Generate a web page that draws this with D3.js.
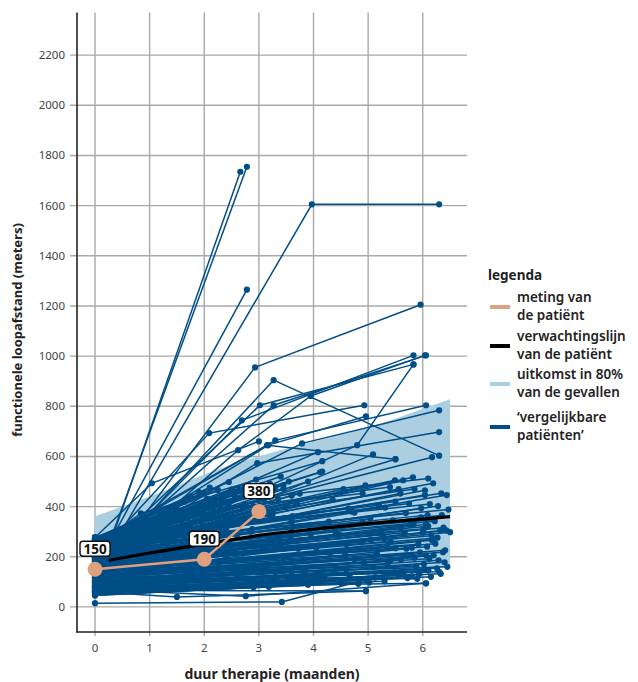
<!DOCTYPE html>
<html>
<head>
<meta charset="utf-8">
<script src="https://cdn.jsdelivr.net/npm/d3@7"></script>
<style>
  html, body { margin: 0; padding: 0; background: #fff; }
  svg { display: block; font-family: "Noto Sans", "Open Sans", sans-serif; }
</style>
</head>
<body>
<svg id="chart" width="638" height="682"></svg>
<script>
// Axis ticks
const xTicks = [0, 1, 2, 3, 4, 5, 6];
const yTicks = [0, 200, 400, 600, 800, 1000, 1200, 1400, 1600, 1800, 2000, 2200];

// 80% outcome band (months, lower, upper)
const bandMonths = [0, 0.5, 1, 1.5, 2, 2.5, 3, 3.5, 4, 4.5, 5, 5.5, 6, 6.5];
const bandLower  = [100, 104, 110, 115, 120, 125, 130, 134, 138, 141, 145, 148, 152, 158];
const bandUpper  = [362, 400, 440, 482, 528, 568, 600, 632, 660, 686, 714, 750, 790, 828];

// Expected trajectory of the patient
const expectMonths = [0.25, 1, 2, 3, 4, 5, 6, 6.5];
const expectValues = [186, 215, 250, 285, 310, 332, 350, 360];

// Measurements of the patient
const patientMonths = [0, 2, 3];
const patientValues = [150, 190, 380];

// Comparable patients: each row is [month, metres, month, metres, ...]
const outlierPatients = [
  [0, 80, 2.66, 1735],
  [0, 100, 2.78, 1755],
  [0, 150, 2.78, 1265],
  [0, 120, 3.97, 1605, 6.3, 1605],
  [0, 105, 2.93, 955, 5.96, 1205],
  [0, 140, 3.27, 904, 6.3, 603],
  [0, 200, 2.09, 693, 4.93, 804],
  [0, 152, 2.69, 744, 5.83, 1003],
  [0, 190, 3.02, 804, 5.83, 967],
  [0, 170, 3.27, 804, 6.06, 1003],
  [0, 130, 2.62, 625, 3.95, 841, 6.04, 1003],
  [0, 277, 1.04, 493, 3.0, 660],
  [0, 210, 3.17, 645, 4.96, 760],
  [0, 232, 3.79, 652, 6.3, 784],
  [0, 160, 4.8, 645, 5.83, 967],
  [0, 250, 3.3, 664, 6.06, 804],
  [0, 180, 2.97, 573, 6.3, 697],
  [0, 260, 3.15, 645, 5.5, 589],
  [0, 243, 0.84, 373, 4.16, 581],
  [0, 15, 3.42, 20, 5.13, 118],
  [0, 60, 1.5, 40, 4.96, 63],
  [0, 70, 2.76, 43, 6.06, 94],
  [0, 50, 3.18, 80, 6.1, 146]
];

const lowerPatients = [
  [0, 52, 5.13, 118], [0, 66, 4.96, 63], [0, 47, 3.9, 88, 6.06, 94], [0, 73, 5.93, 130],
  [0, 58, 2.3, 84, 5.8, 122], [0, 81, 6.1, 146], [0, 69, 4.98, 106], [0, 94, 6.26, 154],
  [0, 88, 3.6, 128, 6.02, 171], [0, 103, 5.4, 182], [0, 76, 6.2, 206], [0, 117, 6.06, 206],
  [0, 98, 5.95, 218], [0, 126, 6.37, 218], [0, 109, 2.9, 168, 5.7, 232], [0, 134, 6.17, 266],
  [0, 85, 4.4, 160], [0, 121, 4.75, 190], [0, 62, 2.05, 88], [0, 99, 3.3, 140],
  [0, 113, 1.9, 150], [0, 57, 5.3, 102], [0, 79, 4.2, 118], [0, 131, 5.1, 160],
  [0, 92, 6.4, 178], [0, 141, 5.85, 196], [0, 107, 4.6, 148], [0, 72, 3.7, 99],
  [0, 124, 3.15, 172], [0, 136, 2.7, 190], [0, 64, 5.55, 128], [0, 86, 2.6, 118, 5.9, 112],
  [0, 55, 4.5, 96], [0, 115, 6.45, 160], [0, 78, 3.05, 110], [0, 97, 5.65, 140],
  [0, 49, 5.02, 97], [0, 111, 5.35, 170], [0, 61, 4.82, 92], [0, 148, 4.58, 206],
  [0, 53, 6.15, 120], [0, 128, 6.41, 226], [0, 82, 5.48, 138], [0, 67, 5.72, 115],
  [0, 101, 6.29, 186], [0, 91, 4.66, 126], [0, 137, 5.16, 212], [0, 71, 6.33, 132],
  [0, 119, 4.93, 176], [0, 87, 6.04, 150], [0, 105, 3.84, 142], [0, 75, 3.52, 104],
  [0, 96, 5.88, 162], [0, 123, 5.79, 208], [0, 116, 6.12, 192], [0, 132, 3.44, 180],
  [0, 58, 2.5, 96, 5.0, 110], [0, 96, 2.7, 152, 5.6, 188], [0, 76, 3.3, 120, 6.3, 140],
  [0, 109, 2.1, 178, 5.8, 236], [0, 63, 4.1, 104], [0, 84, 1.6, 112], [0, 46, 2.9, 78]
];

const middlePatients = [
  [0, 147, 6.32, 305], [0, 158, 3.05, 224, 6.43, 305], [0, 152, 5.6, 318], [0, 171, 5.77, 327],
  [0, 163, 6.06, 330], [0, 176, 5.97, 357], [0, 184, 2.6, 286, 5.97, 393], [0, 149, 4.9, 262],
  [0, 168, 5.25, 290], [0, 193, 4.4, 300], [0, 157, 3.4, 248], [0, 181, 2.85, 300],
  [0, 144, 2.2, 240], [0, 198, 3.6, 340], [0, 166, 6.5, 298], [0, 187, 5.05, 268],
  [0, 155, 4.05, 236], [0, 203, 5.45, 345], [0, 174, 2.45, 262], [0, 162, 1.8, 228],
  [0, 190, 3.25, 262], [0, 146, 6.23, 252], [0, 209, 4.75, 376], [0, 179, 3.95, 290],
  [0, 196, 6.1, 322], [0, 139, 5.35, 242], [0, 172, 1.35, 232], [0, 185, 4.2, 318],
  [0, 154, 2.95, 256], [0, 201, 6.35, 366], [0, 143, 6.08, 240], [0, 159, 6.27, 276],
  [0, 153, 5.92, 250], [0, 169, 5.41, 262], [0, 164, 3.72, 232], [0, 173, 6.16, 284],
  [0, 178, 4.88, 258], [0, 182, 5.67, 296], [0, 188, 6.38, 316], [0, 192, 3.58, 270],
  [0, 197, 5.22, 300], [0, 202, 6.02, 312], [0, 207, 4.47, 288], [0, 213, 5.83, 330],
  [0, 218, 6.22, 342], [0, 223, 2.88, 310], [0, 228, 5.04, 352], [0, 118, 2.4, 196, 5.3, 274],
  [0, 142, 3.1, 232, 6.0, 296], [0, 167, 2.2, 286, 4.9, 338], [0, 133, 1.9, 208, 4.6, 250],
  [0, 181, 3.6, 300, 6.2, 348], [0, 127, 4.3, 214], [0, 150, 5.5, 234], [0, 138, 6.2, 270]
];

const upperPatients = [
  [0, 212, 5.59, 452], [0, 219, 6.04, 465], [0, 227, 6.04, 446], [0, 206, 6.44, 446],
  [0, 241, 6.34, 453], [0, 233, 5.56, 470], [0, 252, 5.49, 505], [0, 224, 5.64, 505],
  [0, 247, 5.82, 517], [0, 238, 6.19, 493], [0, 216, 4.95, 485], [0, 261, 3.1, 428, 5.09, 608],
  [0, 229, 5.5, 589], [0, 256, 6.17, 597], [0, 244, 4.16, 540], [0, 268, 4.12, 537],
  [0, 235, 2.5, 468, 4.08, 617], [0, 274, 5.2, 405], [0, 249, 4.7, 380], [0, 221, 3.5, 398],
  [0, 258, 2.3, 392], [0, 214, 1.6, 330], [0, 266, 1.2, 350], [0, 239, 2.9, 446],
  [0, 253, 2.15, 410], [0, 231, 3.75, 452], [0, 246, 1.95, 372], [0, 278, 2.75, 480],
  [0, 218, 3.2, 365], [0, 263, 1.45, 395], [0, 226, 2.6, 340], [0, 271, 3.45, 472],
  [0, 237, 4.35, 428], [0, 257, 5.75, 412], [0, 208, 6.28, 402], [0, 242, 2.0, 455],
  [0, 222, 2.4, 420], [0, 267, 1.75, 440], [0, 230, 3.9, 500], [0, 254, 4.55, 470],
  [0, 234, 6.09, 366], [0, 239, 4.28, 340], [0, 245, 5.69, 374], [0, 251, 6.47, 388],
  [0, 256, 3.62, 362], [0, 262, 5.31, 396], [0, 268, 6.13, 410], [0, 273, 4.64, 392],
  [0, 205, 2.8, 342, 5.5, 420], [0, 232, 2.7, 400, 5.4, 478], [0, 255, 3.2, 440, 6.1, 512],
  [0, 219, 2.4, 362, 5.85, 470], [0, 244, 1.8, 380, 4.9, 452]
];

const fanPatients = [
  [0, 205, 1.3, 300], [0, 248, 1.55, 362], [0, 190, 2.05, 318], [0, 262, 2.35, 438],
  [0, 226, 1.85, 392], [0, 271, 2.65, 462], [0, 214, 2.95, 388], [0, 238, 3.35, 430],
  [0, 257, 1.1, 318], [0, 199, 2.5, 352], [0, 266, 3.05, 486], [0, 231, 1.7, 356],
  [0, 244, 2.2, 426], [0, 209, 3.25, 370], [0, 275, 1.9, 458], [0, 220, 2.75, 410],
  [0, 252, 3.55, 500], [0, 186, 1.45, 262], [0, 236, 2.45, 402], [0, 259, 2.85, 470],
  [0, 196, 3.7, 410], [0, 272, 2.1, 476], [0, 215, 1.25, 338], [0, 240, 3.0, 458],
  [0, 228, 2.55, 448], [0, 263, 3.2, 492], [0, 201, 1.95, 340], [0, 245, 2.75, 452],
  [0, 218, 2.15, 372], [0, 269, 1.65, 420], [0, 233, 3.45, 486], [0, 256, 2.05, 432],
  [0, 212, 2.9, 402], [0, 241, 1.35, 352], [0, 274, 2.45, 498], [0, 194, 2.6, 336],
  [0, 250, 3.3, 478], [0, 223, 1.8, 364], [0, 264, 2.95, 508], [0, 207, 3.1, 392],
  [0, 236, 2.3, 430], [0, 258, 1.5, 388], [0, 216, 3.6, 444], [0, 270, 3.4, 520],
  [0, 198, 1.15, 282], [0, 247, 2.65, 470], [0, 230, 1.6, 368], [0, 261, 2.25, 466],
  [0, 184, 2.4, 310], [0, 225, 3.0, 424]
];

// Legend entries
const legendTitle = "legenda";
const legendItems = [
  { key: "patient", lines: ["meting van", "de patiënt"] },
  { key: "expect",  lines: ["verwachtingslijn", "van de patiënt"] },
  { key: "band",    lines: ["uitkomst in 80%", "van de gevallen"] },
  { key: "cohort",  lines: ["‘vergelijkbare", "patiënten’"] }
];

const COLORS = {
  cohort: "#004e87",
  band: "#abcee0",
  expect: "#000000",
  patient: "#dfa07f",
  grid: "#a9a9a9",
  axis: "#222222",
  text: "#222222",
  tick: "#444444"
};

const svg = d3.select("#chart");

const x = d3.scaleLinear().domain([-0.33, 6.81]).range([77, 467]);
const y = d3.scaleLinear().domain([-100, 2370]).range([632, 12.5]);

// Grid
const grid = svg.append("g");
grid.selectAll("line.h").data(yTicks).join("line")
  .attr("x1", 70).attr("x2", 467)
  .attr("y1", d => y(d)).attr("y2", d => y(d))
  .attr("stroke", COLORS.grid).attr("stroke-width", 1.4);
grid.selectAll("line.v").data(xTicks).join("line")
  .attr("x1", d => x(d)).attr("x2", d => x(d))
  .attr("y1", 12.5).attr("y2", 636)
  .attr("stroke", COLORS.grid).attr("stroke-width", 1.4);

// Tick labels
svg.append("g").selectAll("text").data(yTicks).join("text")
  .attr("x", 65).attr("y", d => y(d)).attr("dy", "0.35em")
  .attr("text-anchor", "end").attr("font-size", 11.5).attr("fill", COLORS.tick)
  .text(d => d);
svg.append("g").selectAll("text").data(xTicks).join("text")
  .attr("x", d => x(d)).attr("y", 652)
  .attr("text-anchor", "middle").attr("font-size", 11.5).attr("fill", COLORS.tick)
  .text(d => d);

// 80% band
const bandData = bandMonths.map((m, i) => ({ m, lo: bandLower[i], hi: bandUpper[i] }));
svg.append("path").datum(bandData)
  .attr("fill", COLORS.band)
  .attr("d", d3.area().x(d => x(d.m)).y0(d => y(d.lo)).y1(d => y(d.hi)));

// Comparable patients
function toPoints(row) {
  const pts = [];
  for (let i = 0; i < row.length; i += 2) pts.push([row[i], row[i + 1]]);
  return pts;
}
const line = d3.line().x(d => x(d[0])).y(d => y(d[1]));
const cohort = [...lowerPatients, ...middlePatients, ...fanPatients, ...upperPatients, ...outlierPatients].map(toPoints);
const cg = svg.append("g");
cohort.forEach(pts => {
  cg.append("path").datum(pts)
    .attr("d", line).attr("fill", "none")
    .attr("stroke", COLORS.cohort).attr("stroke-width", 1.5);
  cg.selectAll(null).data(pts).join("circle")
    .attr("cx", d => x(d[0])).attr("cy", d => y(d[1])).attr("r", 3.1)
    .attr("fill", COLORS.cohort);
});

// Axis lines
svg.append("line").attr("x1", 77).attr("x2", 77).attr("y1", 12.5).attr("y2", 632.5)
  .attr("stroke", COLORS.axis).attr("stroke-width", 1.6);
svg.append("line").attr("x1", 76.2).attr("x2", 467).attr("y1", 632).attr("y2", 632)
  .attr("stroke", COLORS.axis).attr("stroke-width", 1.6);

// Expected trajectory
svg.append("path").datum(expectMonths.map((m, i) => [m, expectValues[i]]))
  .attr("d", d3.line().x(d => x(d[0])).y(d => y(d[1])).curve(d3.curveMonotoneX))
  .attr("fill", "none")
  .attr("stroke", COLORS.expect).attr("stroke-width", 3.2);

// Patient measurements
const patient = patientMonths.map((m, i) => [m, patientValues[i]]);
svg.append("path").datum(patient)
  .attr("d", line).attr("fill", "none")
  .attr("stroke", COLORS.patient).attr("stroke-width", 2.6);
svg.append("g").selectAll("circle").data(patient).join("circle")
  .attr("cx", d => x(d[0])).attr("cy", d => y(d[1])).attr("r", 7.5)
  .attr("fill", COLORS.patient);

// Value labels
const lab = svg.append("g").selectAll("g").data(patient).join("g")
  .attr("transform", d => `translate(${x(d[0])},${y(d[1]) - 20.5})`);
lab.append("rect").attr("x", -15).attr("y", -7.5).attr("width", 30).attr("height", 15)
  .attr("rx", 3).attr("fill", "#fff").attr("stroke", "#111").attr("stroke-width", 1.4);
lab.append("text").attr("text-anchor", "middle").attr("dy", "0.36em")
  .attr("font-size", 13.5).attr("font-weight", 700).attr("fill", "#111")
  .text(d => d[1]);

// Axis titles
svg.append("text")
  .attr("transform", "translate(22,330) rotate(-90)")
  .attr("text-anchor", "middle").attr("font-size", 13).attr("font-weight", 700)
  .attr("fill", COLORS.text).text("functionele loopafstand (meters)");
svg.append("text")
  .attr("x", 272).attr("y", 679)
  .attr("text-anchor", "middle").attr("font-size", 14).attr("font-weight", 700)
  .attr("fill", COLORS.text).text("duur therapie (maanden)");

// Legend
const lg = svg.append("g").attr("transform", "translate(488,0)");
lg.append("text").attr("x", 0).attr("y", 280).attr("font-size", 13.5).attr("font-weight", 700)
  .attr("fill", COLORS.text).text(legendTitle);
const swatchColor = { patient: COLORS.patient, expect: COLORS.expect, band: COLORS.band, cohort: COLORS.cohort };
const itemY = [307, 346, 384, 427];
legendItems.forEach((it, i) => {
  const g = lg.append("g").attr("transform", `translate(0,${itemY[i]})`);
  g.append("line").attr("x1", 2).attr("x2", 22).attr("y1", 0).attr("y2", 0)
    .attr("stroke", swatchColor[it.key]).attr("stroke-width", 4);
  it.lines.forEach((t, j) => {
    g.append("text").attr("x", 29).attr("y", -5.5 + j * 18.5)
      .attr("font-size", 13.5).attr("font-weight", 600).attr("fill", COLORS.text).text(t);
  });
});
</script>
</body>
</html>
